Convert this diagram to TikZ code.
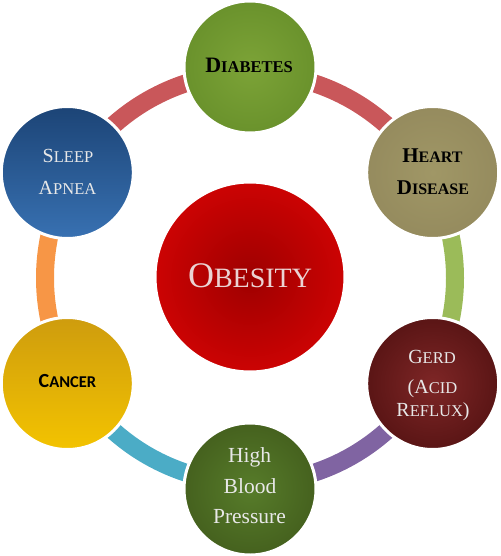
\documentclass[tikz,border=0pt]{standalone}
\usepackage{fontspec}
\usetikzlibrary{calc}
\setmainfont{Liberation Serif}
\newfontfamily\calib{Carlito}
\definecolor{segred}{HTML}{C9575A}
\definecolor{seggreen}{HTML}{9BBB59}
\definecolor{segpurple}{HTML}{8064A2}
\definecolor{segblue}{HTML}{4BACC6}
\definecolor{segorange}{HTML}{F79646}
\definecolor{lighttxt}{HTML}{E8E8E8}
\definecolor{pinktxt}{HTML}{EBD3D3}
\definecolor{diabin}{HTML}{7CA337}
\definecolor{diabout}{HTML}{6A922C}
\definecolor{heartin}{HTML}{A09766}
\definecolor{heartout}{HTML}{958B5E}
\definecolor{sleeptop}{HTML}{1C4476}
\definecolor{sleepbot}{HTML}{3871B2}
\definecolor{cantop}{HTML}{CE9C0E}
\definecolor{canbot}{HTML}{F3C300}
\definecolor{gerdin}{HTML}{7E2626}
\definecolor{gerdout}{HTML}{5A1515}
\definecolor{hbpin}{HTML}{577C2A}
\definecolor{hbpout}{HTML}{45611E}
\definecolor{obin}{HTML}{9E0000}
\definecolor{obout}{HTML}{CC0303}
\newcommand\fsc[4]{{\fontsize{#1}{#1}\selectfont #3}{\fontsize{#2}{#2}\selectfont #4}}
\begin{document}
\begin{tikzpicture}[x=1pt,y=-1pt,
  seg/.style={line width=18pt},
  disc/.style={circle, draw=white, line width=3pt, minimum size=132pt, inner sep=0pt},
  lbl/.style={anchor=base, inner sep=0pt}]
\useasboundingbox (0,0) rectangle (500,556);
\coordinate (ctr) at (250,278);
% ring segments
\draw[seg, segred]    ($(ctr)+(-150:205)$) arc[start angle=-150, end angle=-90, radius=205];
\draw[seg, segred]    ($(ctr)+(-90:205)$)  arc[start angle=-90,  end angle=-30, radius=205];
\draw[seg, seggreen]  ($(ctr)+(-30:205)$)  arc[start angle=-30,  end angle=30,  radius=205];
\draw[seg, segpurple] ($(ctr)+(30:205)$)   arc[start angle=30,   end angle=90,  radius=205];
\draw[seg, segblue]   ($(ctr)+(90:205)$)   arc[start angle=90,   end angle=150, radius=205];
\draw[seg, segorange] ($(ctr)+(150:205)$)  arc[start angle=150,  end angle=210, radius=205];
% circles
\node[disc, inner color=diabin, outer color=diabout] (diab) at (250,67) {};
\node[disc, inner color=heartin, outer color=heartout] (heart) at (432.7,172.5) {};
\node[disc, top color=sleeptop, bottom color=sleepbot] (sleep) at (67.3,172.5) {};
\node[disc, top color=cantop, bottom color=canbot] (cancer) at (67.3,383.5) {};
\node[disc, inner color=gerdin, outer color=gerdout] (gerd) at (432.7,383.5) {};
\node[disc, inner color=hbpin, outer color=hbpout] (hbp) at (250,489) {};
\node[circle, draw=white, line width=3pt, minimum size=190pt, inner sep=0pt,
      inner color=obin, outer color=obout] (obes) at (250,277) {};
% labels
\node[lbl, text=black] (tdiab) at (249,73) {\bfseries\fsc{22}{16.5}{D}{IABETES}};
\node[lbl, text=black] (theart1) at (432.5,162) {\bfseries\fsc{21}{16}{H}{EART}};
\node[lbl, text=black] (theart2) at (433,194) {\bfseries\fsc{21}{16}{D}{ISEASE}};
\node[lbl, text=lighttxt] (tsleep1) at (68,162) {\fsc{20}{16.5}{S}{LEEP}};
\node[lbl, text=lighttxt] (tsleep2) at (67.5,194) {\fsc{20}{16.5}{A}{PNEA}};
\node[lbl, text=lighttxt] (tgerd1) at (432,363) {\fsc{20}{16.5}{G}{ERD}};
\node[lbl, text=lighttxt] (tgerd2) at (432.5,393) {\fsc{20}{16.5}{(A}{CID}};
\node[lbl, text=lighttxt] (tgerd3) at (433,416) {\fsc{20}{16.5}{R}{EFLUX}\fontsize{20}{20}\selectfont)};
\node[lbl, text=lighttxt, font=\fontsize{21.5}{21.5}\selectfont] (thbp1) at (249.5,462) {High};
\node[lbl, text=lighttxt, font=\fontsize{21.5}{21.5}\selectfont] (thbp2) at (250,493) {Blood};
\node[lbl, text=lighttxt, font=\fontsize{21.5}{21.5}\selectfont] (thbp3) at (249.5,523) {Pressure};
\node[lbl, text=black] (tcancer) at (67.5,387) {\calib\bfseries\fsc{20}{16.5}{C}{ANCER}};
\node[lbl, text=pinktxt] (tobes) at (250,287) {\fsc{36}{28}{O}{BESITY}};
\end{tikzpicture}
\end{document}
